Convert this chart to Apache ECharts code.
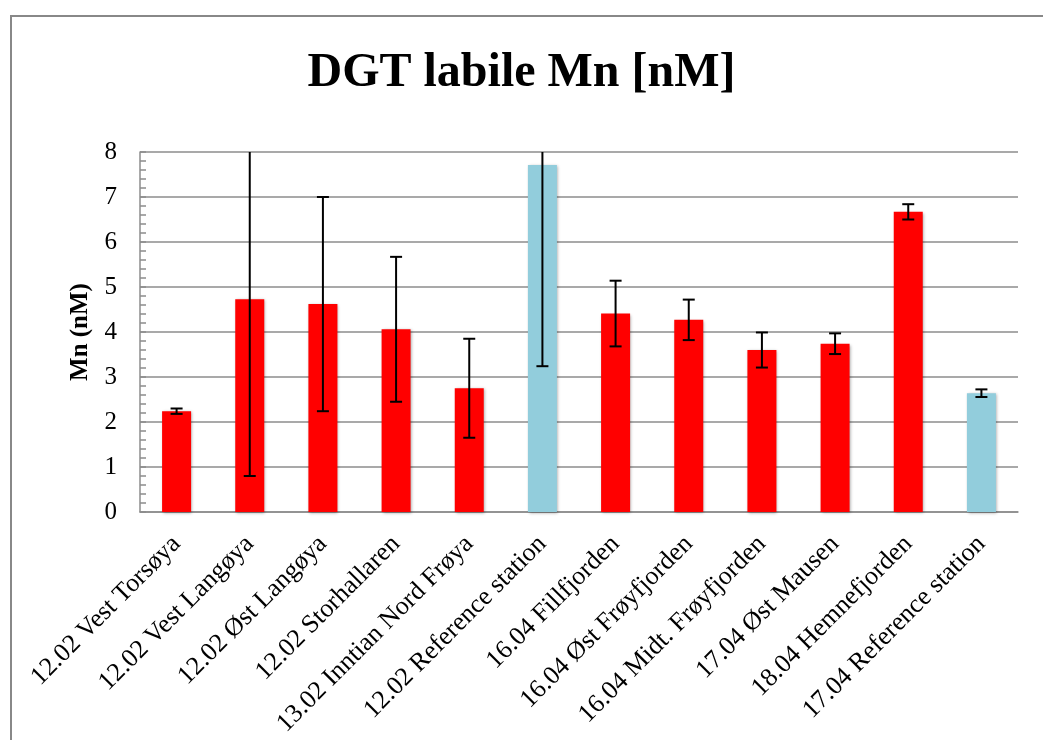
<!DOCTYPE html>
<html>
<head>
<meta charset="utf-8">
<script src="https://cdn.jsdelivr.net/npm/echarts@6/dist/echarts.min.js"></script>
<style>html,body{margin:0;padding:0;background:#fff}#c{width:1043px;height:740px}</style>
</head>
<body>
<div id="c"></div>
<script>
const categories = [
  "12.02 Vest Torsøya", "12.02 Vest Langøya", "12.02 Øst Langøya", "12.02 Storhallaren",
  "13.02 Inntian Nord Frøya", "12.02 Reference station", "16.04 Fillfjorden",
  "16.04 Øst Frøyfjorden", "16.04 Midt. Frøyfjorden", "17.04 Øst Mausen",
  "18.04 Hemnefjorden", "17.04 Reference station"
];
const values = [2.24, 4.73, 4.62, 4.06, 2.75, 7.71, 4.41, 4.27, 3.60, 3.74, 6.67, 2.64];
const errors = [0.06, 3.93, 2.38, 1.61, 1.10, 4.47, 0.73, 0.45, 0.39, 0.23, 0.17, 0.085];
const isReference = [false, false, false, false, false, true, false, false, false, false, false, true];
const yTicks = { min: 0, max: 8, interval: 1 };

const FONT = '"Liberation Serif", "Times New Roman", Times, serif';
const RED = '#FF0000', BLUE = '#92CDDC';

const barData = values.map((v, i) => ({
  value: v,
  itemStyle: { color: isReference[i] ? BLUE : RED }
}));
const errData = values.map((v, i) => [i, v - errors[i], v + errors[i]]);

const chart = echarts.init(document.getElementById('c'), null, { renderer: 'canvas' });
chart.setOption({
  animation: false,
  backgroundColor: '#fff',
  graphic: [{
    type: 'rect', silent: true, z: -1,
    shape: { x: 11, y: 16, width: 1100, height: 1000 },
    style: { fill: 'none', stroke: '#888', lineWidth: 2 }
  }],
  title: {
    text: 'DGT labile Mn [nM]',
    left: 'center', top: 45,
    textStyle: { fontFamily: FONT, fontWeight: 'bold', fontSize: 48, color: '#000' }
  },
  grid: { left: 140, right: 25, top: 152, bottom: 228, containLabel: false },
  xAxis: {
    type: 'category',
    data: categories,
    axisLine: { lineStyle: { color: '#8c8c8c', width: 1.5 } },
    axisTick: { show: false },
    axisLabel: {
      interval: 0, rotate: 45, margin: 28,
      fontFamily: FONT, fontSize: 26, color: '#000'
    }
  },
  yAxis: {
    type: 'value',
    min: yTicks.min, max: yTicks.max, interval: yTicks.interval,
    name: 'Mn (nM)',
    nameLocation: 'middle', nameGap: 47, nameRotate: 90,
    nameTextStyle: { fontFamily: FONT, fontWeight: 'bold', fontSize: 25, color: '#000' },
    axisLine: { show: true, lineStyle: { color: '#8c8c8c', width: 1.5 } },
    axisTick: { show: true, inside: true, length: 6, lineStyle: { color: '#8c8c8c', width: 1.5 } },
    minorTick: { show: true, splitNumber: 5, length: 6, lineStyle: { color: '#8c8c8c', width: 1.5 } },
    splitLine: { show: true, lineStyle: { color: '#8c8c8c', width: 1.5 } },
    axisLabel: { margin: 23, fontFamily: FONT, fontSize: 25, color: '#000' }
  },
  series: [
    {
      type: 'bar',
      data: barData,
      barWidth: 29,
      itemStyle: {
        shadowBlur: 3, shadowColor: 'rgba(0,0,0,0.35)', shadowOffsetX: 1, shadowOffsetY: 1
      },
      z: 2
    },
    {
      type: 'custom',
      data: errData,
      clip: true,
      z: 3,
      renderItem: function (params, api) {
        const x = api.coord([api.value(0), 0])[0];
        const lo = api.coord([api.value(0), api.value(1)])[1];
        const hi = api.coord([api.value(0), api.value(2)])[1];
        const w = 6;
        const st = { stroke: '#000', lineWidth: 2 };
        return {
          type: 'group',
          children: [
            { type: 'line', shape: { x1: x, y1: lo, x2: x, y2: hi }, style: st },
            { type: 'line', shape: { x1: x - w, y1: lo, x2: x + w, y2: lo }, style: st },
            { type: 'line', shape: { x1: x - w, y1: hi, x2: x + w, y2: hi }, style: st }
          ]
        };
      }
    }
  ]
});
</script>
</body>
</html>
